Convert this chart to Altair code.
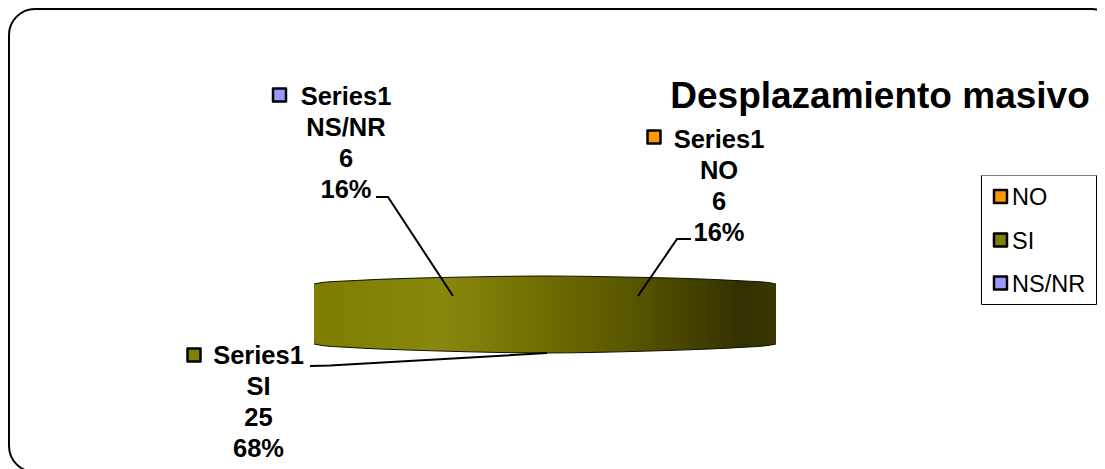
import altair as alt
import pandas as pd

# --- values
categories = ["NO", "SI", "NS/NR"]
counts = [6, 25, 6]
percents = [16, 68, 16]
series_name = "Series1"
title_text = "Desplazamiento masivo"
colors = ["#ff9900", "#808000", "#9999ff"]

# --- layout of the picture (page pixels)
X0, X1, Y0, Y1 = 8, 1097, 8, 469
W, H = X1 - X0, Y1 - Y0
FONT = "Liberation Sans"

disc_x = [314, 322, 345, 380, 440, 500, 545, 590, 650, 710, 745, 768, 776]
disc_top = [284, 282.5, 281, 279.3, 277.5, 276.4, 276, 276.4, 277.5, 279.3, 281, 282.5, 284]
disc_bot = [344, 345.5, 347.2, 349, 351, 352.5, 353, 352.5, 351, 349, 347.2, 345.5, 344]

label_cx = [719, 258.5, 346]
label_y0 = [140, 356, 97]
label_dy = 31
swatch_x = [654, 194, 279.5]
swatch_y = [137, 355, 95]
legend_swatch_x = 1000.5
legend_text_x = 1012
legend_y = [196.5, 240, 283]
legend_text_y = [198, 242, 285]

leaders = {
    "NO": ([691, 677, 638], [239, 239, 296]),
    "SI": ([310, 330, 547], [366, 365.5, 353]),
    "NS/NR": ([376, 388, 453], [197, 197, 296]),
}

sx = alt.Scale(domain=[X0, X1], range=[0, W])
sy = alt.Scale(domain=[Y0, Y1], range=[0, H])
X = lambda f: alt.X(f, type="quantitative", scale=sx, axis=None)
Y = lambda f: alt.Y(f, type="quantitative", scale=sy, axis=None)

# rounded frame (runs past the right and bottom edges of the picture)
frame = alt.Chart(pd.DataFrame({"x": [9], "x2": [1118], "y": [9], "y2": [472]})).mark_rect(
    fill="white", stroke="black", strokeWidth=2, cornerRadius=26
).encode(x=X("x"), x2="x2", y=Y("y"), y2="y2")

# disc
disc_df = pd.DataFrame({"x": disc_x, "t": disc_top, "b": disc_bot})
grad = alt.Gradient(
    gradient="linear", x1=0, x2=1, y1=0, y2=0,
    stops=[
        alt.GradientStop(offset=0, color="#7d7d00"),
        alt.GradientStop(offset=0.28, color="#88880f"),
        alt.GradientStop(offset=0.50, color="#6e6d00"),
        alt.GradientStop(offset=0.70, color="#575400"),
        alt.GradientStop(offset=0.93, color="#323000"),
        alt.GradientStop(offset=1, color="#3b3900"),
    ],
)
disc = alt.Chart(disc_df).mark_area(color=grad, interpolate="monotone").encode(
    x=X("x"), y=Y("t"), y2="b"
)
disc_top_line = alt.Chart(disc_df).mark_line(color="#111100", strokeWidth=1, interpolate="monotone").encode(x=X("x"), y=Y("t"))
disc_bot_line = alt.Chart(disc_df).mark_line(color="#111100", strokeWidth=1, interpolate="monotone").encode(x=X("x"), y=Y("b"))

# leader lines
rows = []
for name, (xs, ys) in leaders.items():
    for i, (a, b) in enumerate(zip(xs, ys)):
        rows.append({"name": name, "i": i, "x": a, "y": b})
lead = alt.Chart(pd.DataFrame(rows)).mark_line(color="black", strokeWidth=2).encode(
    x=X("x"), y=Y("y"), detail="name:N", order="i:Q"
)

# data labels
rows = []
for i, cat in enumerate(categories):
    lines = [series_name, cat, str(counts[i]), f"{percents[i]}%"]
    for j, line in enumerate(lines):
        rows.append({"t": line, "x": label_cx[i], "y": label_y0[i] + j * label_dy})
labels = alt.Chart(pd.DataFrame(rows)).mark_text(
    font=FONT, fontSize=25.5, fontWeight="bold", color="black", align="center", baseline="middle"
).encode(x=X("x"), y=Y("y"), text="t:N")

# label swatches
sw_df = pd.DataFrame({"x": swatch_x, "y": swatch_y, "c": categories})
fill = alt.Fill("c:N", scale=alt.Scale(domain=categories, range=colors), legend=None)
swatches = alt.Chart(sw_df).mark_point(
    shape="square", filled=True, size=169, stroke="black", strokeWidth=2.5, strokeJoin="round", opacity=1
).encode(x=X("x"), y=Y("y"), fill=fill)

# title
title = alt.Chart(pd.DataFrame({"x": [880], "y": [97], "t": [title_text]})).mark_text(
    font=FONT, fontSize=37, fontWeight="bold", color="black", align="center", baseline="middle"
).encode(x=X("x"), y=Y("y"), text="t:N")

# legend
box = alt.Chart(pd.DataFrame({"x": [981.5], "x2": [1096.5], "y": [175.5], "y2": [304.5]})).mark_rect(
    fill="white", stroke="black", strokeWidth=1
).encode(x=X("x"), x2="x2", y=Y("y"), y2="y2")
box_top = alt.Chart(pd.DataFrame({"x": [981.5], "x2": [1096.5], "y": [175.5]})).mark_rule(
    color="#808080", strokeWidth=1
).encode(x=X("x"), x2="x2", y=Y("y"))
lg_df = pd.DataFrame({"x": [legend_swatch_x] * 3, "tx": [legend_text_x] * 3, "y": legend_y, "ty": legend_text_y, "c": categories})
lg_sw = alt.Chart(lg_df).mark_point(
    shape="square", filled=True, size=169, stroke="black", strokeWidth=2.5, strokeJoin="round", opacity=1
).encode(x=X("x"), y=Y("y"), fill=fill)
lg_tx = alt.Chart(lg_df).mark_text(font=FONT, fontSize=23.5, color="black", align="left", baseline="middle").encode(
    x=X("tx"), y=Y("ty"), text="c:N"
)

chart = alt.layer(
    frame, disc, disc_top_line, disc_bot_line, lead, labels, swatches, title, box, box_top, lg_sw, lg_tx
).properties(
    width=W, height=H, padding=0, autosize=alt.AutoSizeParams(type="none")
).configure_view(stroke=None)

chart.save("out.html", embed_options={"renderer": "svg", "actions": False})
